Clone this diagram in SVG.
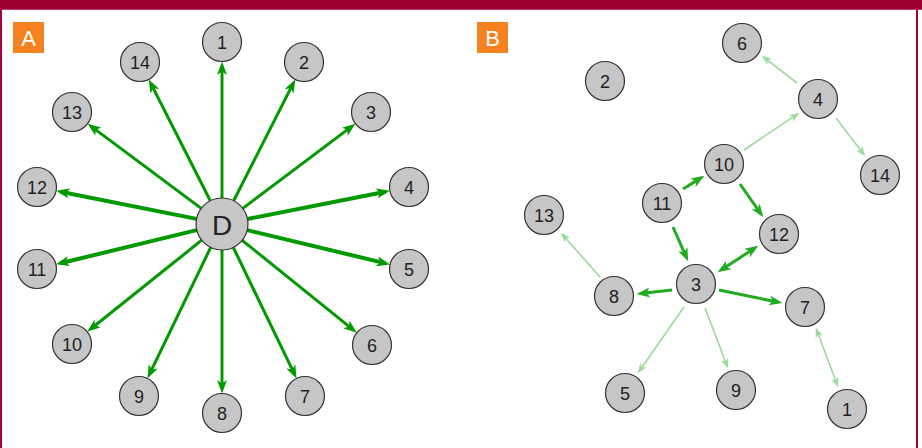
<svg xmlns="http://www.w3.org/2000/svg" width="922" height="448" viewBox="0 0 922 448">
<style>
.n circle{fill:#c6c6c6;stroke:#333;stroke-width:1.2}
.n text{font-family:"Liberation Sans",Arial,sans-serif;font-size:18px;fill:#222;text-anchor:middle;dominant-baseline:central}
.nd text{font-size:28px}
.ea line{stroke:#009900;stroke-width:3;marker-end:url(#ah)}
.ea line.w{stroke-width:4}
.eb line{stroke:#22aa22;stroke-width:3;marker-end:url(#ahb)}
.eb line.l{stroke:#9adb9a;stroke-width:1.6;marker-end:url(#ahl)}
.lab rect{fill:#f5821f}
.lab text{font-family:"Liberation Sans",Arial,sans-serif;font-size:22px;fill:#fff;text-anchor:middle;dominant-baseline:central}
</style>
<defs>
<marker id="ah" markerUnits="userSpaceOnUse" markerWidth="14" markerHeight="10" refX="8" refY="4.5" orient="auto-start-reverse" viewBox="0 0 12 9"><path d="M0,0 L12,4.5 L0,9 L3,4.5 z" fill="#009900"/></marker>
<marker id="ahb" markerUnits="userSpaceOnUse" markerWidth="14" markerHeight="10" refX="8" refY="4.5" orient="auto-start-reverse" viewBox="0 0 12 9"><path d="M0,0 L12,4.5 L0,9 L3,4.5 z" fill="#22aa22"/></marker>
<marker id="ahl" markerUnits="userSpaceOnUse" markerWidth="10" markerHeight="8" refX="6" refY="3.5" orient="auto-start-reverse" viewBox="0 0 9 7"><path d="M0,0 L9,3.5 L0,7 L2.5,3.5 z" fill="#9adb9a"/></marker>
</defs>
<rect x="0" y="0" width="922" height="448" fill="#fff"/>
<rect x="0" y="0" width="922" height="9" fill="#9b0030"/>
<rect x="0" y="9" width="922" height="1" fill="#c0406a"/>
<rect x="0" y="9" width="2" height="439" fill="#a8003a"/>
<rect x="916" y="9" width="2" height="439" fill="#a8003a"/>

<g id="labelA" class="lab"><rect x="13" y="22" width="31" height="31"/><text x="28.5" y="38">A</text></g>
<g id="labelB" class="lab"><rect x="477" y="22" width="31" height="31"/><text x="492.5" y="38">B</text></g>

<g id="connectorsA" class="ea">
<line x1="222" y1="198" x2="222" y2="66"/>
<line x1="233.7" y1="200.8" x2="293.2" y2="83.4"/>
<line x1="242.8" y1="208.4" x2="351.8" y2="126.4"/>
<line class="w" x1="247.5" y1="219" x2="385.5" y2="191.7"/>
<line class="w" x1="247.3" y1="230.1" x2="385.7" y2="263.4"/>
<line x1="242.2" y1="240.3" x2="353.3" y2="329.9"/>
<line x1="233.3" y1="247.4" x2="294.6" y2="374.4"/>
<line x1="222" y1="250" x2="222" y2="389"/>
<line x1="210.7" y1="247.4" x2="149.4" y2="374.4"/>
<line x1="201.7" y1="240.2" x2="90.7" y2="329"/>
<line class="w" x1="196.7" y1="230.1" x2="60.3" y2="263.3"/>
<line class="w" x1="196.5" y1="218.9" x2="60.5" y2="191.7"/>
<line x1="201.2" y1="208.4" x2="91.2" y2="126.4"/>
<line x1="210.3" y1="200.8" x2="150.8" y2="83.4"/>
</g>

<g id="A-D" class="n nd"><circle cx="222" cy="224" r="26"/><text x="222" y="225">D</text></g>
<g id="A-1" class="n"><circle cx="222" cy="42" r="19.5"/><text x="222" y="43">1</text></g>
<g id="A-2" class="n"><circle cx="304" cy="62" r="19.5"/><text x="304" y="63">2</text></g>
<g id="A-3" class="n"><circle cx="371" cy="112" r="19.5"/><text x="371" y="113">3</text></g>
<g id="A-4" class="n"><circle cx="409" cy="187" r="19.5"/><text x="409" y="188">4</text></g>
<g id="A-5" class="n"><circle cx="409" cy="269" r="19.5"/><text x="409" y="270">5</text></g>
<g id="A-6" class="n"><circle cx="372" cy="345" r="19.5"/><text x="372" y="346">6</text></g>
<g id="A-7" class="n"><circle cx="305" cy="396" r="19.5"/><text x="305" y="397">7</text></g>
<g id="A-8" class="n"><circle cx="222" cy="413" r="19.5"/><text x="222" y="414">8</text></g>
<g id="A-9" class="n"><circle cx="139" cy="396" r="19.5"/><text x="139" y="397">9</text></g>
<g id="A-10" class="n"><circle cx="72" cy="344" r="19.5"/><text x="72" y="345">10</text></g>
<g id="A-11" class="n"><circle cx="37" cy="269" r="19.5"/><text x="37" y="270">11</text></g>
<g id="A-12" class="n"><circle cx="37" cy="187" r="19.5"/><text x="37" y="188">12</text></g>
<g id="A-13" class="n"><circle cx="72" cy="112" r="19.5"/><text x="72" y="113">13</text></g>
<g id="A-14" class="n"><circle cx="140" cy="62" r="19.5"/><text x="140" y="63">14</text></g>

<g id="connectorsB" class="eb">
<line x1="683" y1="189" x2="700.6" y2="178.1"/>
<line x1="740" y1="184" x2="760.7" y2="213.7"/>
<line x1="673" y1="227" x2="686.4" y2="257.3"/>
<line x1="721.4" y1="269.8" x2="754.6" y2="248.2" marker-start="url(#ahb)"/>
<line x1="672" y1="290" x2="641" y2="293.5"/>
<line x1="719" y1="290" x2="778.1" y2="302.2"/>
<line class="l" x1="797" y1="83" x2="764.4" y2="57.8"/>
<line class="l" x1="744" y1="150" x2="796.5" y2="114.7"/>
<line class="l" x1="836" y1="118" x2="863.2" y2="153.6"/>
<line class="l" x1="600" y1="277" x2="563" y2="235.2"/>
<line class="l" x1="684" y1="307" x2="639.7" y2="370.5"/>
<line class="l" x1="705" y1="308" x2="726.9" y2="365.2"/>
<line class="l" x1="817" y1="330.8" x2="837" y2="384.2" marker-start="url(#ahl)"/>
</g>

<g id="B-1" class="n"><circle cx="847" cy="409" r="19.5"/><text x="847" y="410">1</text></g>
<g id="B-2" class="n"><circle cx="605" cy="81" r="19.5"/><text x="605" y="82">2</text></g>
<g id="B-3" class="n"><circle cx="696" cy="284" r="19.5"/><text x="696" y="285">3</text></g>
<g id="B-4" class="n"><circle cx="818" cy="99" r="19.5"/><text x="818" y="100">4</text></g>
<g id="B-5" class="n"><circle cx="625" cy="393" r="19.5"/><text x="625" y="394">5</text></g>
<g id="B-6" class="n"><circle cx="742" cy="43" r="19.5"/><text x="742" y="44">6</text></g>
<g id="B-7" class="n"><circle cx="805" cy="307" r="19.5"/><text x="805" y="308">7</text></g>
<g id="B-8" class="n"><circle cx="614" cy="296" r="19.5"/><text x="614" y="297">8</text></g>
<g id="B-9" class="n"><circle cx="736" cy="390" r="19.5"/><text x="736" y="391">9</text></g>
<g id="B-10" class="n"><circle cx="724" cy="164" r="19.5"/><text x="724" y="165">10</text></g>
<g id="B-11" class="n"><circle cx="662" cy="203" r="19.5"/><text x="662" y="204">11</text></g>
<g id="B-12" class="n"><circle cx="779" cy="234" r="19.5"/><text x="779" y="235">12</text></g>
<g id="B-13" class="n"><circle cx="544" cy="215" r="19.5"/><text x="544" y="216">13</text></g>
<g id="B-14" class="n"><circle cx="880" cy="175" r="19.5"/><text x="880" y="176">14</text></g>
</svg>
